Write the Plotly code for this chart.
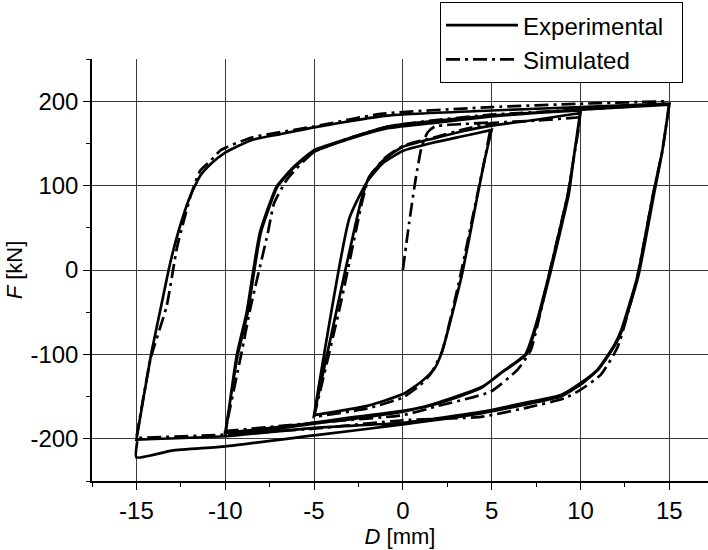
import plotly.graph_objects as go

# ---------------- Experimental branches (D [mm], F [kN]) ----------------
exp_up5a_D = [-5, -3.0, -2.0, -1.1, 0, 1.75, 3.5, 5]
exp_up5a_F = [-172, 62, 105, 127, 141, 151, 159, 166]
exp_dn5a_D = [5, 4.6, 4.2, 3.3, 2.2, 1.75, 1.0, 0, -2, -5]
exp_dn5a_F = [166, 130, 88, -8, -97, -118, -133, -147, -161, -172]
exp_up5b_D = [-5, -2.35, -1.9, -1.0, 0, 1.75, 3.5, 5, 7.5, 10]
exp_up5b_F = [-172, 82, 110, 132, 146, 156, 165, 171, 178, 186]
exp_dn10a_D = [10, 9.6, 9.3, 8.2, 7.4, 6.9, 5.5, 4.4, 2, 0, -3, -5.7, -10]
exp_dn10a_F = [186, 130, 91, -8, -71, -100, -122, -140, -158, -167, -175, -183, -193]
exp_up10a_D = [-10, -9.3, -8.74, -8.0, -7.05, -6.1, -5, -2.75, -0.85, 2, 5, 7.5, 10]
exp_up10a_F = [-193, -101, -51, 44, 99, 122, 140, 157, 168, 175, 182, 186, 189]
exp_dn10b_D = [10, 9.6, 9.35, 8.25, 7.45, 6.95, 5.6, 4.5, 2, 0, -3, -5, -10]
exp_dn10b_F = [189, 130, 91, -8, -71, -100, -121, -138, -157, -168, -177, -182, -197]
exp_up10b_D = [-10, -9.35, -8.8, -8.05, -7.1, -6.15, -5, -2.75, -0.85, 2, 5, 10, 12.5, 15]
exp_up10b_F = [-197, -101, -51, 44, 99, 122, 142, 158, 170, 177, 183, 190, 193, 196]
exp_dn15a_D = [15, 14.6, 14.1, 13.2, 12.3, 11.9, 10.96, 10, 8.9, 7.2, 4.4, 0, -5, -10, -15]
exp_dn15a_F = [196, 140, 91, -8, -71, -89, -118, -134, -148, -156, -168, -181, -187, -197, -201]
exp_up15a_D = [-15, -14.2, -13.6, -13.1, -12.6, -12.0, -11.4, -10.8, -10.0, -8.5, -6.9, -5, -0.85, 5, 10, 15]
exp_up15a_F = [-201, -103, -42, 8, 48, 86, 112, 126, 139, 154, 161, 169, 183, 189, 193, 197]
exp_dn15b_D = [15, 14.6, 14.15, 13.25, 12.35, 11.95, 11.0, 10, 8.9, 7.2, 4.4, 0, -5, -10, -13, -15, -14.95]
exp_dn15b_F = [197, 140, 91, -8, -71, -89, -118, -136, -150, -158, -170, -183, -196, -209, -214, -222, -203]

# ---------------- Simulated branches ----------------
sim_init_D = [0, 0.35, 0.73, 1.05, 1.39, 1.8, 2.5, 3.5, 5]
sim_init_F = [0, 55, 109, 145, 163, 170, 172, 173, 175]
sim_dn5_D = [5, 4.6, 4.2, 3.1, 2.2, 1.6, 1.0, 0, -2, -5]
sim_dn5_F = [175, 130, 90, -20, -97, -122, -136, -151, -164, -174]
sim_up5_D = [-5, -3.5, -2.3, -1.9, -1.0, 0, 1.75, 3.5, 5, 7.5, 10]
sim_up5_F = [-174, -40, 80, 110, 133, 147, 157, 167, 174, 177, 181]
sim_dn10_D = [10, 9.6, 9.3, 8.2, 7.2, 6.46, 4.95, 2, 0, -5, -10]
sim_dn10_F = [181, 130, 91, -8, -95, -118, -144, -161, -172, -181, -191]
sim_up10_D = [-10, -9.1, -8.56, -7.6, -7.25, -6.5, -5, -2.75, -0.85, 2, 5, 10, 15]
sim_up10_F = [-191, -100, -43, 44, 79, 108, 140, 158, 170, 178, 184, 190, 197]
sim_dn15_D = [15, 14.6, 14.1, 13.2, 12.1, 11.15, 10, 9.1, 7, 4.4, 0, -5, -10, -15]
sim_dn15_F = [197, 140, 91, -8, -91, -124, -142, -152, -163, -174, -178, -188, -195, -199]
sim_up15_D = [-15, -14.2, -13.3, -12.7, -11.9, -11.4, -10.8, -10.25, -8.5, -5, -1.24, 5, 10, 15]
sim_up15_F = [-199, -105, -43, 28, 91, 118, 130, 142, 157, 170, 185, 193, 197, 200]

x_ticks = [-15, -10, -5, 0, 5, 10, 15]
x_tick_labels = ["-15", "-10", "-5", "0", "5", "10", "15"]
y_ticks = [-200, -100, 0, 100, 200]
y_tick_labels = ["-200", "-100", "0", "100", "200"]

exp_D = (exp_up5a_D + exp_dn5a_D + exp_up5b_D + exp_dn10a_D + exp_up10a_D +
         exp_dn10b_D + exp_up10b_D + exp_dn15a_D + exp_up15a_D + exp_dn15b_D)
exp_F = (exp_up5a_F + exp_dn5a_F + exp_up5b_F + exp_dn10a_F + exp_up10a_F +
         exp_dn10b_F + exp_up10b_F + exp_dn15a_F + exp_up15a_F + exp_dn15b_F)
sim_D = (sim_init_D + sim_dn5_D + sim_up5_D + sim_dn10_D + sim_up10_D +
         sim_dn15_D + sim_up15_D)
sim_F = (sim_init_F + sim_dn5_F + sim_up5_F + sim_dn10_F + sim_up10_F +
         sim_dn15_F + sim_up15_F)

FONT = "Liberation Sans, Arial, sans-serif"
PAD = "\u00a0\u00a0"  # right padding inside the legend box

fig = go.Figure()
fig.add_trace(go.Scatter(x=exp_D, y=exp_F, mode="lines", name="Experimental" + PAD,
                         line=dict(color="black", width=2.7, shape="spline", smoothing=0.5)))
fig.add_trace(go.Scatter(x=sim_D, y=sim_F, mode="lines", name="Simulated",
                         line=dict(color="black", width=2.7, dash="14px,5px,3px,5px",
                                   shape="spline", smoothing=0.5)))

axis_common = dict(showline=True, linecolor="black", linewidth=1.5,
                   showgrid=True, gridcolor="#3a3a3a", gridwidth=1,
                   ticks="outside", ticklen=7, tickwidth=1.2, tickcolor="black",
                   zeroline=False, mirror=False,
                   tickfont=dict(family=FONT, size=24, color="black"))

fig.update_layout(
    width=708, height=550,
    margin=dict(l=92, r=0, t=59, b=69),
    paper_bgcolor="white", plot_bgcolor="white",
    showlegend=True,
    legend=dict(x=0.565, y=1.135, xanchor="left", yanchor="top",
                bgcolor="white", bordercolor="black", borderwidth=1,
                font=dict(family=FONT, size=24, color="black"),
                itemwidth=72, tracegroupgap=0),
    xaxis=dict(range=[-17.5, 17.18], tickvals=x_ticks, ticktext=x_tick_labels,
               title=dict(text="<i>D</i> [mm]", standoff=3,
                          font=dict(family=FONT, size=22, color="black")),
               minor=dict(dtick=2.5, tick0=0, ticks="outside", ticklen=4,
                          tickcolor="black", showgrid=False),
               **axis_common),
    yaxis=dict(range=[-250, 250], tickvals=y_ticks, ticktext=y_tick_labels,
               title=dict(text="<i>F</i> [kN]", standoff=2,
                          font=dict(family=FONT, size=22, color="black")),
               minor=dict(dtick=50, tick0=0, ticks="outside", ticklen=4,
                          tickcolor="black", showgrid=False),
               **axis_common),
)

fig.write_html("out.html")
